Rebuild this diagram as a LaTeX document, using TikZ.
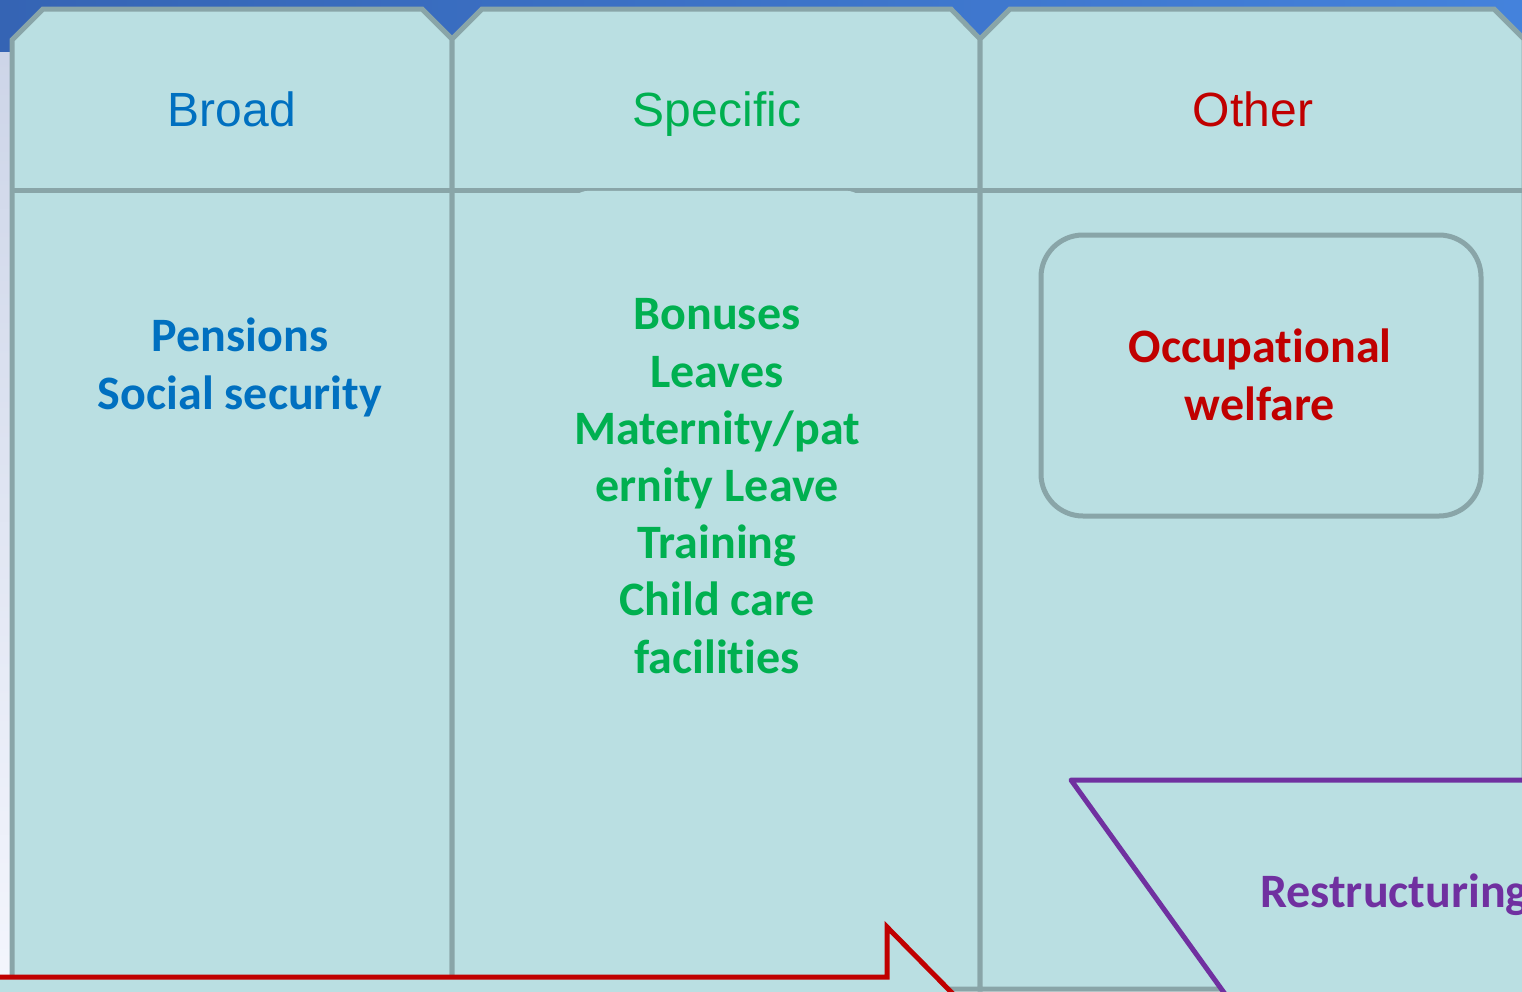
\documentclass[tikz,border=0pt]{standalone}
\usepackage{fontspec}
\setmainfont[Ligatures={NoCommon}]{Carlito}
\newfontfamily\arialf{Liberation Sans}
\definecolor{cellfill}{RGB}{186,223,226}
\definecolor{cellline}{RGB}{137,165,168}
\definecolor{tblue}{RGB}{0,112,192}
\definecolor{tgreen}{RGB}{0,176,80}
\definecolor{tred}{RGB}{192,0,0}
\definecolor{tpurple}{RGB}{112,48,160}
\definecolor{bandL}{RGB}{53,100,180}
\definecolor{bandR}{RGB}{68,130,220}
\definecolor{lavTop}{RGB}{205,213,232}
\definecolor{lavBot}{RGB}{244,246,253}
\tikzset{
  colbox/.style={fill=cellfill, draw=cellline, line width=5pt, line join=miter},
  divider/.style={draw=cellline, line width=5pt},
  headtxt/.style={font=\arialf\fontsize{48}{58}\selectfont, inner sep=0pt, anchor=base},
  bodytxt/.style={font=\bfseries\fontsize{48}{57.2}\selectfont, align=center, inner sep=0pt, anchor=base},
  redline/.style={draw=tred, line width=5pt, line join=miter},
  purpline/.style={draw=tpurple, line width=5pt, line join=round},
  occstyle/.style={draw=cellline, line width=5pt, fill=cellfill, rounded corners=42pt,
    minimum width=440pt, minimum height=281pt, inner sep=0pt},
}
\begin{document}
\begin{tikzpicture}[x=1pt,y=-1pt]
\useasboundingbox (0,0) rectangle (1522,991);
\clip (0,0) rectangle (1522,991);
% background
\shade[left color=bandL, right color=bandR] (0,0) rectangle (1522,52);
\shade[top color=lavTop, bottom color=lavBot] (0,52) rectangle (14,991);
% columns
\draw[colbox] (12,40) -- (43,9) -- (422,9) -- (452,39) -- (452,989) -- (12,989) -- cycle;
\draw[colbox] (452,39) -- (482,9) -- (951,9) -- (980,39) -- (980,989) -- (452,989) -- cycle;
\draw[colbox] (980,39) -- (1010,9) -- (1494,9) -- (1524,39) -- (1524,989) -- (980,989) -- cycle;
\draw[divider] (12,190) -- (1524,190);
% soft rounded panel in the middle column
\fill[cellfill, rounded corners=22pt] (567,190.8) rectangle (868,760);
% headers
\node[headtxt, text=tblue] (broad) at (232,126) {Broad};
\node[headtxt, text=tgreen] (specific) at (717,126) {Specific};
\node[headtxt, text=tred] (other) at (1253,126) {Other};
% body texts (anchor=base is the baseline of the last line)
\node[bodytxt, text=tblue] (broadtxt) at (240,409) {Pensions\\Social security};
\node[bodytxt, text=tgreen] (spectxt) at (717,673) {Bonuses\\Leaves\\Maternity/pat\\ernity Leave\\Training\\Child care\\facilities};
\node[occstyle] (occbox) at (1261,375.5) {};
\node[bodytxt, text=tred] (occtxt) at (1260,420) {Occupational\\welfare};
% red callout (partly visible)
\coordinate (rl) at (-5,977);
\coordinate (rk) at (887,977);
\coordinate (rt) at (887,927);
\coordinate (rd) at (960,1001);
\fill[cellfill] (rl) -- (rk) -- (rt) -- (rd) -- (-5,1001) -- cycle;
\draw[redline] (rl) -- (rk) -- (rt) -- (rd);
% purple shape (partly visible)
\coordinate (pa) at (1600,780);
\coordinate (pb) at (1071,780);
\coordinate (pc) at (1230,1001);
\fill[cellfill] (pa) -- (pb) -- (pc) -- (1600,1001) -- cycle;
\draw[purpline] (pa) -- (pb) -- (pc);
\node[bodytxt, text=tpurple, anchor=base west] (restr) at (1260,907) {Restructuring};
\end{tikzpicture}
\end{document}
